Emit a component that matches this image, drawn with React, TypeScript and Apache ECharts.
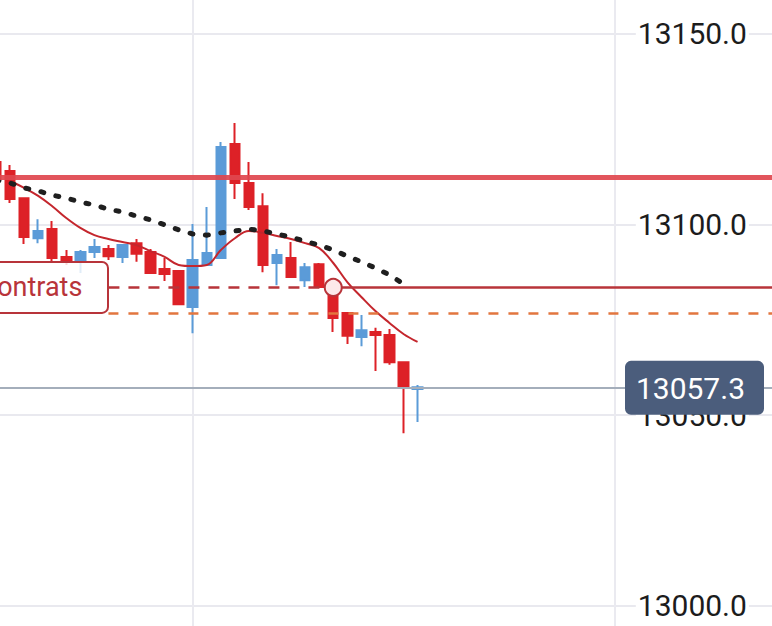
import React, { useEffect, useRef } from "react";
import * as echarts from "echarts";

// ---- data ----
const SLOT_COUNT = 57;
const SLOTS = Array.from({ length: SLOT_COUNT }, (_, i) => String(i + 1));

const OPEN = [13116.4, 13114.0, 13106.9, 13096.4, 13098.8, 13091.5, 13090.7, 13092.8, 13093.6, 13091.5, 13095.1, 13092.8, 13088.3, 13087.8, 13078.4, 13089.4, 13091.2, 13121.1, 13110.9, 13104.8, 13089.9, 13091.2, 13085.4, 13089.6, 13083.0, 13076.8, 13070.5, 13071.8, 13071.0, 13063.9, 13056.9];
const CLOSE = [13112.0, 13106.7, 13096.7, 13098.3, 13091.2, 13090.7, 13092.8, 13094.1, 13091.7, 13094.6, 13092.3, 13087.3, 13087.0, 13079.1, 13090.7, 13092.5, 13120.3, 13110.9, 13104.6, 13089.4, 13092.0, 13086.2, 13088.8, 13083.6, 13075.5, 13070.8, 13072.3, 13071.0, 13063.9, 13057.5, 13057.3];
const LOW = [13111.0, 13105.6, 13094.9, 13095.1, 13090.2, 13089.4, 13087.3, 13091.2, 13090.7, 13089.9, 13090.2, 13087.3, 13085.2, 13079.1, 13071.5, 13089.4, 13091.2, 13106.7, 13103.8, 13087.5, 13084.1, 13086.2, 13083.6, 13083.6, 13071.8, 13068.7, 13068.1, 13061.6, 13063.2, 13045.3, 13048.2];
const HIGH = [13118.0, 13115.6, 13106.9, 13101.4, 13100.9, 13093.3, 13093.3, 13096.2, 13094.6, 13094.6, 13096.2, 13093.6, 13091.2, 13087.8, 13100.1, 13104.6, 13121.6, 13126.6, 13116.4, 13108.2, 13093.6, 13095.4, 13089.9, 13089.9, 13083.3, 13076.8, 13076.3, 13072.9, 13072.6, 13063.9, 13057.9];

const MA_FAST = [null, 13111.4, 13109.6, 13107.5, 13104.8, 13101.7, 13099.1, 13097.2, 13096.2, 13095.4, 13094.6, 13093.0, 13091.5, 13089.4, 13089.1, 13089.4, 13093.3, 13096.4, 13098.3, 13097.8, 13097.0, 13096.2, 13095.1, 13093.8, 13089.9, 13084.9, 13081.0, 13077.3, 13074.2, 13071.3, 13069.2];
const MA_SLOW = [13111.7, 13110.9, 13109.6, 13108.8, 13107.7, 13106.9, 13105.9, 13105.1, 13104.0, 13103.3, 13102.2, 13101.2, 13099.9, 13098.6, 13097.5, 13097.2, 13097.8, 13098.3, 13098.8, 13098.3, 13097.5, 13096.7, 13095.6, 13094.6, 13093.3, 13091.7, 13090.2, 13088.6, 13086.8, 13084.4, null];

const STOP_LEVEL = 13112.4;
const POSITION_LEVEL = 13083.5;
const ORDER_LEVEL = 13076.8;
const LAST_PRICE = 13057.3;
const POSITION_TEXT = "contrats";

const Y_MIN = 12950;
const Y_MAX = 13200;
const Y_INTERVAL = 50;
const V_GRID_SLOTS = [14, 44];
const POSITION_START_SLOT = 8;
const POSITION_ENTRY_SLOT = 24;

const RED = "#dd2127";
const BLUE = "#5b9bd8";
const DARK_RED = "#b8343a";
const FONT = "Roboto";

export default function App() {
  const ref = useRef<HTMLDivElement>(null);

  useEffect(() => {
    if (!ref.current) return;
    const chart = echarts.init(ref.current, undefined, { renderer: "svg" });
    const candles = OPEN.map((o, i) => [o, CLOSE[i], LOW[i], HIGH[i]]);
    const lastSlot = SLOT_COUNT - 1;

    const option: any = {
      animation: false,
      backgroundColor: "#ffffff",
      grid: {
        left: -11,
        right: -17.9,
        top: -157,
        bottom: -170.7,
        containLabel: false,
        outerBoundsMode: "none",
      },
      xAxis: {
        type: "category",
        data: SLOTS,
        boundaryGap: true,
        axisLine: { show: false },
        axisTick: { show: false },
        axisLabel: { show: false },
        splitLine: { show: false },
      },
      yAxis: {
        type: "value",
        position: "right",
        min: Y_MIN,
        max: Y_MAX,
        interval: Y_INTERVAL,
        axisLine: { show: false },
        axisTick: { show: false },
        splitLine: { show: true, lineStyle: { color: "#e9e9ef", width: 2 } },
        axisLabel: {
          inside: true,
          margin: 41,
          showMinLabel: false,
          showMaxLabel: false,
          fontFamily: FONT,
          fontSize: 30,
          color: "#1c1c1c",
          backgroundColor: "#ffffff",
          padding: [1, 2],
          formatter: (v: number) => v.toFixed(1),
        },
      },
      series: [
        {
          type: "candlestick",
          data: candles,
          barWidth: 10,
          z: 2,
          itemStyle: {
            color: BLUE,
            color0: RED,
            borderColor: BLUE,
            borderColor0: RED,
            borderWidth: 2,
          },
          markLine: {
            silent: true,
            symbol: ["none", "none"],
            z: 1,
            label: { show: false },
            lineStyle: { color: "#eaeaf0", width: 2, type: "solid" },
            data: V_GRID_SLOTS.map((s) => ({ xAxis: s })),
          },
        },
        {
          type: "line",
          data: MA_FAST,
          smooth: 0.4,
          showSymbol: false,
          symbol: "none",
          z: 3,
          lineStyle: { color: "#c4262d", width: 2 },
          markLine: {
            silent: true,
            symbol: ["none", "none"],
            z: 4,
            label: { show: false },
            data: [
              { yAxis: LAST_PRICE, lineStyle: { color: "#a4aebb", width: 2, type: "solid" } },
              [
                { coord: [POSITION_START_SLOT, ORDER_LEVEL], lineStyle: { color: "#e2763f", width: 2.5, type: [10, 10] } },
                { coord: [lastSlot, ORDER_LEVEL] },
              ],
              [
                { coord: [POSITION_START_SLOT, POSITION_LEVEL], lineStyle: { color: DARK_RED, width: 2.5, type: [11, 9] } },
                { coord: [POSITION_ENTRY_SLOT, POSITION_LEVEL] },
              ],
              [
                { coord: [POSITION_ENTRY_SLOT, POSITION_LEVEL], lineStyle: { color: DARK_RED, width: 2.5, type: "solid" } },
                { coord: [lastSlot, POSITION_LEVEL] },
              ],
              { yAxis: STOP_LEVEL, lineStyle: { color: "#e0474e", width: 5, type: "solid", opacity: 0.92 } },
            ],
          },
          markPoint: {
            silent: true,
            z: 6,
            symbol: "circle",
            symbolSize: 17,
            label: { show: false },
            itemStyle: { color: "#fde9ea", borderColor: DARK_RED, borderWidth: 2 },
            data: [{ coord: [POSITION_ENTRY_SLOT, POSITION_LEVEL] }],
          },
        },
        {
          type: "line",
          data: MA_SLOW,
          showSymbol: false,
          symbol: "none",
          z: 3,
          lineStyle: { color: "#1f1f1f", width: 5, type: [3, 12.5], cap: "round" },
        },
      ],
    };
    chart.setOption(option);

    const priceY = chart.convertToPixel({ yAxisIndex: 0 }, LAST_PRICE) as number;
    const posY = chart.convertToPixel({ yAxisIndex: 0 }, POSITION_LEVEL) as number;
    chart.setOption({
      graphic: [
        {
          type: "rect",
          z: 100,
          shape: { x: -20, y: posY - 25.5, width: 128, height: 51, r: 6 },
          style: { fill: "rgba(255,255,255,0.82)", stroke: DARK_RED, lineWidth: 2 },
        },
        {
          type: "text",
          z: 101,
          x: -17,
          y: posY,
          style: {
            text: POSITION_TEXT,
            fill: DARK_RED,
            font: `27px ${FONT}`,
            textAlign: "left",
            textVerticalAlign: "middle",
            verticalAlign: "middle",
          },
        },
        {
          type: "rect",
          z: 100,
          shape: { x: 625, y: priceY - 26.5, width: 139, height: 54, r: 6 },
          style: { fill: "#4b5d7c" },
        },
        {
          type: "text",
          z: 101,
          x: 745,
          y: priceY + 1,
          style: {
            text: LAST_PRICE.toFixed(1),
            fill: "#ffffff",
            font: `30px ${FONT}`,
            textAlign: "right",
            textVerticalAlign: "middle",
            verticalAlign: "middle",
          },
        },
      ],
    });

    return () => chart.dispose();
  }, []);

  return (
    <div
      ref={ref}
      style={{ position: "fixed", left: 0, top: 0, width: 772, height: 626, background: "#fff" }}
    />
  );
}
